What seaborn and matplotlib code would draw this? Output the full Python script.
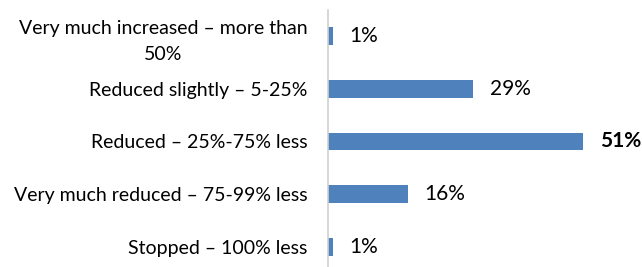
import pandas as pd
import matplotlib.pyplot as plt
import seaborn as sns

categories = [
    "Very much increased – more than\n50%",
    "Reduced slightly – 5-25%",
    "Reduced – 25%-75% less",
    "Very much reduced – 75-99% less",
    "Stopped – 100% less",
]
values = [1, 29, 51, 16, 1]
value_labels = ["1%", "29%", "51%", "16%", "1%"]
bold_label = "51%"

sns.set_style("white")
plt.rcParams['font.family'] = ['Lato', 'DejaVu Sans']

df = pd.DataFrame({"category": categories, "value": values})

fig = plt.figure(figsize=(6.42, 2.67), dpi=100)
ax = fig.add_axes([328 / 642, 0, 1 - 328 / 642, (267 - 9.5) / 267])

sns.barplot(data=df, x="value", y="category", orient="h", color="#4F81BD",
            width=0.34, saturation=1, linewidth=0, ax=ax)

for i, (v, lab) in enumerate(zip(values, value_labels)):
    ax.annotate(lab, (v, i), xytext=(12, 0), textcoords="offset points",
                va="center", ha="left", fontsize=15, color="#000000",
                fontweight="bold" if lab == bold_label else "normal")

ax.set_xlim(0, 62.8)
ax.set_ylim(4.377, -0.5)
ax.set_xlabel("")
ax.set_ylabel("")
ax.set_xticks([])
ax.tick_params(axis="y", length=0, pad=15, labelsize=14, labelcolor="#000000")
for t in ax.get_yticklabels():
    t.set_multialignment("center")
    t.set_linespacing(1.6)

for side in ["top", "right", "bottom"]:
    ax.spines[side].set_visible(False)
ax.spines["left"].set_color("#D0D0D0")
ax.spines["left"].set_linewidth(1.2)

fig.savefig("out.png", dpi=100)
